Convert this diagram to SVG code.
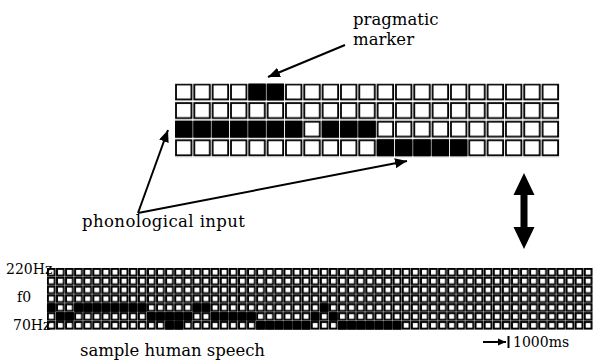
<svg xmlns="http://www.w3.org/2000/svg" width="600" height="364" viewBox="0 0 600 364">
<style>
text{font-family:"DejaVu Serif","Liberation Serif",serif;fill:#000}
.lbl{font-size:16.5px}
.ax{font-size:14px}
.conn{stroke:#000;stroke-width:2;fill:none}
.on{fill:#000;stroke:#000}
.big .on{stroke-width:1.8;width:15.5px;height:15px}
.small .on{stroke-width:1.9;width:6.8px;height:6.6px}
</style>
<defs>
<marker id="ah" markerUnits="userSpaceOnUse" markerWidth="14" markerHeight="10" refX="12" refY="5" orient="auto">
<path d="M0,0 L12,5 L0,10 Z" fill="#000"/>
</marker>
<marker id="ahs" markerUnits="userSpaceOnUse" markerWidth="9" markerHeight="8" refX="8" refY="4" orient="auto">
<path d="M0,0.5 L8,4 L0,7.5 Z" fill="#000"/>
</marker>
<pattern id="bigcell" patternUnits="userSpaceOnUse" x="175" y="83.5" width="18.33" height="18.6">
<rect x="1" y="1" width="15.5" height="15" fill="#fff" stroke="#000" stroke-width="1.8"/>
</pattern>
<pattern id="smallcell" patternUnits="userSpaceOnUse" x="47" y="268" width="9.1" height="8.857">
<rect x="0.9" y="0.9" width="6.8" height="6.6" fill="#fff" stroke="#000" stroke-width="1.9"/>
</pattern>
</defs>
<rect width="600" height="364" fill="#fff"/>

<g id="model-grid" class="big">
<rect x="175" y="83.5" width="385" height="74.4" fill="url(#bigcell)"/>
<g transform="translate(175,83.5)">
<rect class="on" x="74.33" y="1"/><rect class="on" x="92.67" y="1"/>
<rect class="on" x="1" y="38.2"/><rect class="on" x="19.33" y="38.2"/><rect class="on" x="37.67" y="38.2"/><rect class="on" x="56" y="38.2"/><rect class="on" x="74.33" y="38.2"/><rect class="on" x="92.67" y="38.2"/><rect class="on" x="111" y="38.2"/>
<rect class="on" x="147.67" y="38.2"/><rect class="on" x="166" y="38.2"/><rect class="on" x="184.33" y="38.2"/>
<rect class="on" x="202.67" y="56.8"/><rect class="on" x="221" y="56.8"/><rect class="on" x="239.33" y="56.8"/><rect class="on" x="257.67" y="56.8"/><rect class="on" x="276" y="56.8"/>
</g>
</g>

<g id="speech-grid" class="small">
<rect x="47" y="268" width="546" height="62" fill="url(#smallcell)"/>
<g transform="translate(47,268)">
<rect class="on" x="0.9" y="36.33"/>
<rect class="on" x="28.2" y="36.33"/><rect class="on" x="37.3" y="36.33"/><rect class="on" x="46.4" y="36.33"/><rect class="on" x="55.5" y="36.33"/><rect class="on" x="64.6" y="36.33"/><rect class="on" x="73.7" y="36.33"/><rect class="on" x="82.8" y="36.33"/><rect class="on" x="91.9" y="36.33"/>
<rect class="on" x="146.5" y="36.33"/><rect class="on" x="155.6" y="36.33"/>
<rect class="on" x="273.9" y="36.33"/>
<rect class="on" x="10" y="45.19"/><rect class="on" x="19.1" y="45.19"/>
<rect class="on" x="101" y="45.19"/><rect class="on" x="110.1" y="45.19"/><rect class="on" x="119.2" y="45.19"/><rect class="on" x="128.3" y="45.19"/><rect class="on" x="137.4" y="45.19"/>
<rect class="on" x="164.7" y="45.19"/><rect class="on" x="173.8" y="45.19"/><rect class="on" x="182.9" y="45.19"/><rect class="on" x="192" y="45.19"/><rect class="on" x="201.1" y="45.19"/>
<rect class="on" x="264.8" y="45.19"/><rect class="on" x="283" y="45.19"/>
<rect class="on" x="119.2" y="54.04"/><rect class="on" x="128.3" y="54.04"/>
<rect class="on" x="210.2" y="54.04"/><rect class="on" x="219.3" y="54.04"/><rect class="on" x="228.4" y="54.04"/><rect class="on" x="237.5" y="54.04"/><rect class="on" x="246.6" y="54.04"/><rect class="on" x="255.7" y="54.04"/>
<rect class="on" x="292.1" y="54.04"/><rect class="on" x="301.2" y="54.04"/><rect class="on" x="310.3" y="54.04"/><rect class="on" x="319.4" y="54.04"/><rect class="on" x="328.5" y="54.04"/><rect class="on" x="337.6" y="54.04"/><rect class="on" x="346.7" y="54.04"/>
</g>
</g>

<g id="pragmatic-marker">
<text class="lbl" x="353" y="25">pragmatic</text>
<text class="lbl" x="353" y="45">marker</text>
</g>
<g id="phonological-input">
<text class="lbl" x="82" y="227" textLength="163">phonological input</text>
</g>
<g id="sample-speech">
<text class="lbl" x="80" y="356" textLength="185">sample human speech</text>
</g>
<g id="axis-labels">
<text class="ax" x="6" y="274">220Hz</text>
<text class="ax" x="17" y="302">f0</text>
<text class="ax" x="13" y="330">70Hz</text>
</g>
<g id="time-scale">
<line class="conn" x1="483" y1="342" x2="506" y2="342" stroke-width="1.2" marker-end="url(#ahs)"/>
<line class="conn" x1="508.5" y1="336" x2="508.5" y2="348" stroke-width="1.2"/>
<text class="ax" x="513" y="347">1000ms</text>
</g>

<g id="connectors">
<line class="conn" x1="345" y1="45" x2="268" y2="77" marker-end="url(#ah)"/>
<line class="conn" x1="138" y1="213" x2="168" y2="130" marker-end="url(#ah)"/>
<line class="conn" x1="138" y1="213" x2="407" y2="161" marker-end="url(#ah)"/>
<path d="M524,173 L534.5,195 L527.5,195 L527.5,227 L534.5,227 L524,249 L513.5,227 L520.5,227 L520.5,195 L513.5,195 Z" fill="#000"/>
</g>
</svg>
